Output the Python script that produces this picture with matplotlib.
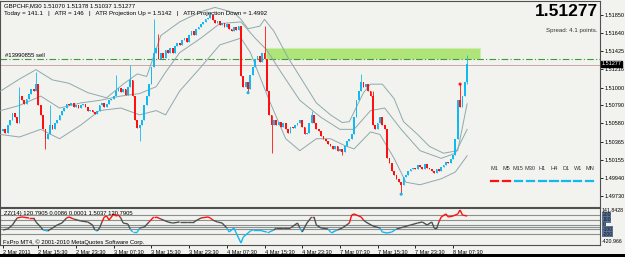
import matplotlib
matplotlib.use('Agg')
import matplotlib.pyplot as plt
from matplotlib.collections import LineCollection
from matplotlib.patches import Rectangle
from matplotlib.lines import Line2D
import matplotlib.transforms as mtransforms

W, H = 625, 257
BAR_PX = 2.356
FONT = ['Liberation Sans', 'DejaVu Sans']

# GBPCHF M30 bars from 2 Mar 2011 08:00, each bar opens at the previous close
first_open = 1.5049
closes = [
    1.5051, 1.5047, 1.5056, 1.5062, 1.5070, 1.5065, 1.5059, 1.5090, 1.5085, 1.5081,
    1.5087, 1.5093, 1.5098, 1.5096, 1.5104, 1.5079, 1.5068, 1.5051, 1.5040, 1.5045,
    1.5056, 1.5051, 1.5059, 1.5062, 1.5068, 1.5072, 1.5076, 1.5081, 1.5079, 1.5082,
    1.5077, 1.5079, 1.5076, 1.5079, 1.5081, 1.5077, 1.5072, 1.5074, 1.5071, 1.5069,
    1.5072, 1.5079, 1.5082, 1.5077, 1.5081, 1.5086, 1.5087, 1.5090, 1.5096, 1.5099,
    1.5095, 1.5098, 1.5091, 1.5101, 1.5109, 1.5090, 1.5062, 1.5053, 1.5056, 1.5062,
    1.5079, 1.5090, 1.5104, 1.5124, 1.5141, 1.5146, 1.5133, 1.5141, 1.5135, 1.5144,
    1.5141, 1.5146, 1.5141, 1.5149, 1.5152, 1.5150, 1.5156, 1.5158, 1.5154, 1.5162,
    1.5166, 1.5162, 1.5169, 1.5171, 1.5175, 1.5177, 1.5180, 1.5182, 1.5185, 1.5179,
    1.5176, 1.5178, 1.5173, 1.5176, 1.5171, 1.5175, 1.5169, 1.5166, 1.5171, 1.5167,
    1.5172, 1.5113, 1.5101, 1.5107, 1.5098, 1.5115, 1.5124, 1.5133, 1.5137, 1.5130,
    1.5141, 1.5133, 1.5096, 1.5068, 1.5056, 1.5062, 1.5056, 1.5060, 1.5054, 1.5059,
    1.5051, 1.5047, 1.5054, 1.5053, 1.5056, 1.5059, 1.5062, 1.5054, 1.5045, 1.5047,
    1.5059, 1.5068, 1.5059, 1.5051, 1.5049, 1.5043, 1.5040, 1.5037, 1.5034, 1.5032,
    1.5028, 1.5031, 1.5026, 1.5028, 1.5025, 1.5032, 1.5037, 1.5040, 1.5045, 1.5065,
    1.5085, 1.5096, 1.5107, 1.5101, 1.5104, 1.5096, 1.5090, 1.5056, 1.5051, 1.5059,
    1.5065, 1.5056, 1.5051, 1.5017, 1.5011, 1.5002, 1.4998, 1.4993, 1.4989, 1.4986,
    1.4995, 1.4998, 1.5002, 1.5004, 1.5006, 1.5005, 1.5009, 1.5007, 1.5005, 1.5010,
    1.5006, 1.5004, 1.5002, 1.5000, 1.5005, 1.5002, 1.5007, 1.5009, 1.5013, 1.5011,
    1.5016, 1.5021, 1.5040, 1.5085, 1.5077, 1.5090, 1.5107, 1.51277,
]
# wicks that stick out of the body
wick_high = {7: 1.5101, 14: 1.5118, 20: 1.5079, 48: 1.5115, 54: 1.5127, 64: 1.5180,
             66: 1.5163, 88: 1.5189, 111: 1.5172, 131: 1.5072, 152: 1.5116,
             157: 1.5096, 194: 1.5104, 197: 1.51378}
wick_low = {18: 1.5028, 58: 1.5037, 104: 1.5094, 114: 1.5023, 144: 1.5021,
            169: 1.4975, 197: 1.51037}

# zigzag points
zz_bars = [104, 169, 194]
zz_prices = [1.5094, 1.4975, 1.5104]
zz_colors = ['#12b8f0', '#12b8f0', '#ff1010']

# band lines (bar index, price)
upper_bars = [-1, 7, 14, 21, 28, 36, 44, 51, 57, 61, 67, 75, 84, 90, 98, 101, 104, 109,
              111, 115, 121, 126, 133, 139, 144, 147, 153, 156, 161, 166, 170, 176, 181,
              187, 193, 197]
upper = [1.5096, 1.5110, 1.5121, 1.5109, 1.5105, 1.5094, 1.5088, 1.5104, 1.5116, 1.5113,
         1.5161, 1.5177, 1.5189, 1.5194, 1.5188, 1.5180, 1.5169, 1.5172, 1.5180, 1.5166,
         1.5135, 1.5113, 1.5082, 1.5068, 1.5059, 1.5060, 1.5094, 1.5104, 1.5104, 1.5087,
         1.5060, 1.5045, 1.5031, 1.5023, 1.5026, 1.5081]
middle_bars = [-1, 7, 16, 24, 33, 41, 50, 58, 65, 69, 75, 84, 92, 101, 107, 112, 118,
               126, 135, 143, 149, 156, 162, 169, 177, 186, 192, 197]
middle = [1.5073, 1.5079, 1.5090, 1.5076, 1.5082, 1.5085, 1.5090, 1.5093, 1.5101, 1.5118,
          1.5141, 1.5158, 1.5175, 1.5177, 1.5158, 1.5144, 1.5118, 1.5085, 1.5065, 1.5051,
          1.5051, 1.5073, 1.5076, 1.5051, 1.5026, 1.5017, 1.5023, 1.5051]
lower_bars = [-1, 7, 16, 24, 33, 41, 50, 58, 65, 69, 75, 84, 92, 101, 105, 113, 120,
              126, 133, 139, 145, 149, 156, 160, 166, 171, 177, 186, 192, 197]
lower = [1.5045, 1.5042, 1.5051, 1.5040, 1.5056, 1.5073, 1.5076, 1.5068, 1.5073, 1.5068,
         1.5096, 1.5124, 1.5150, 1.5158, 1.5141, 1.5085, 1.5040, 1.5026, 1.5040, 1.5040,
         1.5032, 1.5028, 1.5048, 1.5045, 1.5017, 1.4989, 1.4986, 1.4993, 1.5001, 1.5020]

# ZZ(14) oscillator (bar index, value)
osc_bars = [0, 2, 4, 6, 8, 11, 13, 14, 16, 17, 19, 21, 23, 25, 27, 28, 30, 33, 36, 38,
            39, 40, 41, 42, 43, 44, 45, 47, 48, 49, 50, 51, 53, 54, 55, 57, 58, 60, 62,
            64, 65, 67, 70, 72, 75, 78, 81, 84, 87, 88, 89, 91, 93, 95, 96, 98, 99, 101,
            102, 104, 105, 106, 109, 110, 112, 113, 115, 116, 119, 122, 125, 126, 127,
            129, 131, 132, 133, 135, 138, 139, 140, 142, 144, 147, 148, 149, 152, 153,
            154, 157, 160, 161, 163, 165, 167, 170, 173, 176, 178, 180, 182, 183, 184,
            185, 186, 188, 189, 191, 193, 194, 195, 197]
osc = [-110, -90, -7, 138, 159, 138, 138, 55, -48, -110, -131, -69, -7, 34, 138, 159,
       117, 76, 55, -7, -110, -131, -69, 55, 159, 179, 96, 221, 179, 200, 138, 34, 14,
       -90, -152, -152, -69, -48, 55, 159, 159, 117, 55, 34, 55, 55, 55, 138, 159, 138,
       96, 55, 34, -69, -152, -69, -173, -380, -255, -173, -131, -110, -110, -131, -152,
       -152, -110, -69, -69, -69, 34, -69, -152, 34, 159, 159, -7, -69, -90, -152, -152,
       -110, -69, 34, 200, 221, 159, 96, 55, -28, -69, -152, -173, -152, -90, -48, -7,
       34, 55, -7, 55, -69, -90, 55, 159, 221, 159, 179, 221, 303, 200, 179]
osc_levels = [200, 100, 0, -50, -100, -200]

price_ticks = [1.51850, 1.51640, 1.51425, 1.51216, 1.51000, 1.50790, 1.50580,
               1.50365, 1.50155, 1.49940, 1.49730]
date_bars = [0, 15, 31, 47, 63, 79, 95, 111, 127, 143, 159, 175, 191]
date_labels = ['2 Mar 2011', '2 Mar 15:30', '2 Mar 23:30', '3 Mar 07:30', '3 Mar 15:30',
               '3 Mar 23:30', '4 Mar 07:30', '4 Mar 15:30', '4 Mar 23:30', '7 Mar 07:30',
               '7 Mar 15:30', '7 Mar 23:30', '8 Mar 07:30']

timeframes = ['M1', 'M5', 'M15', 'M30', 'H1', 'H4', 'D1', 'W1', 'MN']
tf_colors = ['#ff1010', '#ff1010', '#12b8f0', '#12b8f0', '#12b8f0', '#12b8f0',
             '#12b8f0', '#12b8f0', '#12b8f0']

sell_price = 1.51333
bid_line = 1.51260
zone_low, zone_high = 1.51330, 1.51464
zone_start, zone_end = 111.6, 202.5
last_price = 1.51277

BG = '#f2f2ee'
AXC = '#505050'
UP = '#12b8f0'
DOWN = '#ff1010'


def fx(px):
    return px / W


def fy(py):
    return 1 - py / H


fig = plt.figure(figsize=(W / 100, H / 100), dpi=100, facecolor=BG)

# main price panel
ax = fig.add_axes([0, fy(206.5), fx(600), (206.5 - 1) / H], facecolor=BG)
ax.set_xlim(-3 / BAR_PX, 597 / BAR_PX)
ax.set_ylim(1.496052, 1.520152)

ax.add_patch(Rectangle((zone_start, zone_low), zone_end - zone_start, zone_high - zone_low,
                       facecolor='#aee478', edgecolor='#cdefa8', lw=0.8, zorder=1))
ax.axhline(sell_price, color='#3f9a3f', lw=0.8, dashes=(6, 2, 1, 2), zorder=2)
ax.axhline(bid_line, color='#c8aaaa', lw=0.7, zorder=2)

for xs, ys in [(upper_bars, upper), (middle_bars, middle), (lower_bars, lower)]:
    ax.plot(xs, ys, color='#8fa9ae', lw=0.7, zorder=3)

opens = [first_open] + closes[:-1]
for i in range(len(closes)):
    o, c = opens[i], closes[i]
    col = UP if c >= o else DOWN
    hi = wick_high.get(i, max(o, c))
    lo = wick_low.get(i, min(o, c))
    ax.vlines(i, lo, hi, color=col, lw=0.6, zorder=4)
    ax.bar(i, max(abs(c - o), 0.00003), bottom=min(o, c), width=0.75, color=col,
           lw=0, zorder=4)

ax.scatter(zz_bars, zz_prices, s=5, c=zz_colors, zorder=5, lw=0)

ax.yaxis.tick_right()
ax.set_yticks(price_ticks)
ax.set_yticklabels(['%.5f' % p for p in price_ticks], fontsize=4.0, family=FONT)
ax.tick_params(axis='y', length=2, width=0.6, pad=1.2, colors='black')
ax.set_xticks([])
for s in ax.spines.values():
    s.set_color(AXC)
    s.set_linewidth(0.8)

trans = mtransforms.blended_transform_factory(ax.transAxes, ax.transData)
ax.text(1.003, last_price, '%.5f' % last_price, transform=trans, fontsize=4.0,
        family=FONT, color='white', va='center', ha='left',
        bbox=dict(boxstyle='square,pad=0.12', fc='black', ec='black'))

# oscillator panel
ax2 = fig.add_axes([0, fy(245), fx(600), (245 - 207.5) / H], facecolor=BG)
ax2.set_xlim(ax.get_xlim())
ax2.set_ylim(-421, 355)
for lv in osc_levels:
    ax2.axhline(lv, color='#8a9090', lw=0.8, zorder=1)

segs, cols = [], []
for k in range(len(osc_bars) - 1):
    a, b = osc[k], osc[k + 1]
    segs.append([(osc_bars[k], a), (osc_bars[k + 1], b)])
    m = (a + b) / 2
    cols.append(DOWN if m > 100 else (UP if m < -100 else '#505050'))
ax2.add_collection(LineCollection(segs, colors=cols, linewidths=1.0, zorder=3))

ax2.set_yticks([])
ax2.set_xticks(date_bars)
ax2.set_xticklabels(date_labels, fontsize=4.0, family=FONT, ha='left')
ax2.tick_params(axis='x', length=2.5, width=0.6, pad=1.2, colors='black')
for s in ax2.spines.values():
    s.set_color(AXC)
    s.set_linewidth(0.8)

trans2 = mtransforms.blended_transform_factory(ax2.transAxes, ax2.transData)
for lv, lab in zip([200, 100, 0, -100, -200], ['200', '100', '0', '-100', '-200']):
    ax2.text(1.004, lv, lab, transform=trans2, fontsize=3.6, family=FONT,
             color='#101828', va='center', ha='left',
             bbox=dict(boxstyle='square,pad=0.1', fc='#5a7394', ec='none'))
ax2.text(1.003, 290, '141.8428', transform=trans2, fontsize=3.8, family=FONT,
         color='black', va='center', ha='left')
ax2.text(1.003, -340, '-420.966', transform=trans2, fontsize=3.8, family=FONT,
         color='black', va='center', ha='left')

# texts on the chart
fig.text(fx(4), fy(5.5), 'GBPCHF,M30 1.51070 1.51378 1.51037 1.51277', fontsize=4.3,
         family=FONT, va='center')
fig.text(fx(4), fy(13.5), 'Today = 141.1   |   ATR = 146   |   ATR Projection Up = 1.5142'
         '   |   ATR Projection Down = 1.4992', fontsize=4.4, family=FONT, va='center')
fig.text(fx(598), fy(11), '%.5f' % last_price, fontsize=12.5, weight='bold',
         family=FONT, ha='right', va='center')
fig.text(fx(598), fy(30.5), 'Spread: 4.1 points.', fontsize=4.4, family=FONT,
         ha='right', va='center', color='#333333')
fig.text(fx(5), fy(55.5), '#13990855 sell', fontsize=4.2, family=FONT, va='center')
fig.text(fx(4), fy(213.3), 'ZZ(14) 120.7905 0.0086 0.0001 1.5037 120.7905', fontsize=4.2,
         family=FONT, va='center')
fig.text(fx(3), fy(242.3), 'FxPro MT4, \u00a9 2001-2010 MetaQuotes Software Corp.',
         fontsize=4.2, family=FONT, va='center')

# timeframe trend block
for k, (tf, col) in enumerate(zip(timeframes, tf_colors)):
    cx = 494.5 + 11.9 * k
    fig.text(fx(cx), fy(168), tf, fontsize=4.0, family=FONT, ha='center',
             va='center', color='#333333')
    fig.add_artist(Line2D([fx(cx - 3.6), fx(cx + 3.6)], [fy(181), fy(181)], color=col,
                          lw=1.6, transform=fig.transFigure))

fig.add_artist(Rectangle((0, 0), 1, 3.3 / H, transform=fig.transFigure,
                         facecolor='black', edgecolor='none'))

fig.savefig('out.png', dpi=100, facecolor=BG)
